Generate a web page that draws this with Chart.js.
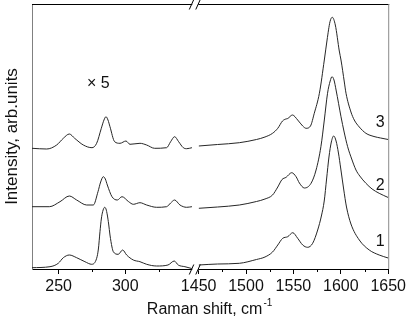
<!DOCTYPE html>
<html>
<head>
<meta charset="utf-8">
<script src="https://cdn.jsdelivr.net/npm/chart.js@4.4.1/dist/chart.umd.min.js"></script>
<style>
  body { margin: 0; background: #fff; }
  #wrap { width: 409px; height: 326px; }
</style>
</head>
<body>
<div id="wrap"><canvas id="raman"></canvas></div>
<script>
// left part of the axis (low shifts), cm-1
const low1X = [230, 243.5, 249.7, 253.5, 258, 263.5, 269.7, 274.8, 278.5, 279.8, 281, 282, 283, 284.5, 285.5, 286.5, 287.5, 288.5, 290, 291, 294.7, 298, 301, 306, 311, 316, 323.5, 332, 336.7, 339.7, 344.7, 349.8];
const low1Y = [1.3, 2.3, 5.7, 11.3, 14, 11.3, 7.3, 4.7, 10.7, 20, 37.3, 50, 57.3, 61.7, 60, 54, 45, 34, 22, 17.3, 14.7, 19, 14, 9, 7.3, 4.7, 3, 4, 8, 4, 2.3, 0.5];
const low2X = [230, 243, 251, 258, 263.5, 271, 276, 279.5, 281.5, 283.5, 285, 286.5, 290, 294, 297.5, 302.5, 306, 311, 316, 323.5, 331, 334, 337, 341, 346, 350];
const low2Y = [62.3, 62.3, 67.3, 73, 69, 64, 64, 77.3, 87, 92.3, 90, 84, 72.3, 69, 72.3, 67.3, 64.7, 66.3, 64, 61.7, 62.3, 66, 69, 64, 61.7, 62.3];
const low3X = [230, 241, 248.5, 253.5, 258, 262, 268.5, 275, 278.5, 282, 284, 285.5, 287, 288.5, 292, 296, 300.5, 303.5, 311, 316, 322, 331, 334, 337, 340, 343.5, 346, 350];
const low3Y = [120.7, 120, 124, 130.7, 135, 130.7, 124, 121.3, 125.7, 140.7, 149, 152.3, 149, 142.3, 127.3, 125.7, 128, 124.7, 125.7, 124, 120.7, 121.3, 127.3, 132.3, 127.3, 121.3, 120.3, 121.3];

// right part of the axis (G band region)
const high1X = [1450, 1470, 1493, 1511, 1520, 1528, 1533.5, 1538.7, 1544, 1549.3, 1554.5, 1559.8, 1565, 1570.3, 1575.6, 1579.5, 1582.5, 1585, 1587.5, 1590, 1592.5, 1595, 1597.5, 1600, 1603, 1606, 1610.7, 1619.5, 1630, 1640.5, 1650];
const high1Y = [4, 5, 5.7, 9.5, 12, 17, 24, 30.7, 32.3, 36.3, 30.7, 24, 21.7, 25.7, 39, 53, 68, 90, 112, 127, 133, 128, 116, 100, 80, 62, 45, 29, 19, 14, 11];
const high2X = [1450, 1470, 1493, 1511, 1520, 1528, 1533.5, 1538, 1542.3, 1548.2, 1552.8, 1556.3, 1561.6, 1568.6, 1573.9, 1579, 1582.6, 1586, 1588.8, 1590.7, 1592.8, 1595, 1600.2, 1603.5, 1607.2, 1611.5, 1616, 1620, 1626.5, 1633, 1640.5, 1650];
const high2Y = [60.7, 62, 64, 67.5, 70, 74, 82, 89.5, 91.7, 96.3, 92.3, 86, 81, 85.7, 99, 122.3, 149, 175.7, 188, 192.3, 189, 179, 152.3, 137, 122.3, 110, 99, 93, 85.7, 80, 75.7, 71.5];
const high3X = [1450, 1470, 1493, 1511, 1520, 1528, 1533.5, 1538.5, 1542, 1544, 1549, 1554.5, 1559.8, 1563.4, 1568, 1572, 1577.4, 1582.6, 1585.5, 1588.6, 1591, 1594.2, 1598.4, 1600.2, 1603.7, 1605.5, 1610.7, 1614.2, 1619.5, 1626.5, 1635, 1642, 1650];
const high3Y = [123, 124.5, 126.3, 129.5, 132, 135.7, 140.7, 148, 150, 150.5, 154, 149, 143, 140.7, 143, 155.7, 175.7, 209, 229, 247.3, 251.7, 244, 218, 209, 187, 175.7, 157, 149, 142, 135.7, 132.5, 131, 129.5];

const lowTicks = [250, 300];
const lowMinor = [275, 325];
const highTicks = [1450, 1500, 1550, 1600, 1650];
const highMinor = [1475, 1525, 1575, 1625];

const curveNames = ['1', '2', '3'];
const curveNameY = [23, 79.5, 142];
const curveNameX = 1641.6;

const FONT = 'Liberation Sans, Arial, Helvetica, sans-serif';
Chart.defaults.font.family = FONT;
Chart.defaults.font.size = 16;
Chart.defaults.color = '#111';

function pts(xs, ys) {
    return xs.map((x, i) => ({ x: x, y: ys[i] }));
}

function spec(xs, ys, axis) {
    return {
        data: pts(xs, ys),
        xAxisID: axis,
        borderColor: '#262626',
        borderWidth: 1,
        pointRadius: 0,
        cubicInterpolationMode: 'monotone',
        fill: false
    };
}

const decor = {
    id: 'decor',
    afterDraw(chart) {
        const ctx = chart.ctx;
        const a = chart.chartArea;
        const xL = chart.scales.xL, xR = chart.scales.xR, y = chart.scales.y;
        ctx.save();
        ctx.lineWidth = 1;

        // frame: top and right
        ctx.strokeStyle = '#000';
        ctx.beginPath();
        ctx.moveTo(a.left, a.top + 0.5);
        ctx.lineTo(a.right + 1, a.top + 0.5);
        ctx.stroke();
        ctx.strokeStyle = '#8a8a8a';
        ctx.beginPath();
        ctx.moveTo(a.right + 0.5, a.top);
        ctx.lineTo(a.right + 0.5, a.bottom);
        ctx.stroke();

        // minor ticks
        ctx.strokeStyle = '#000';
        ctx.beginPath();
        lowMinor.forEach(v => {
            const px = Math.round(xL.getPixelForValue(v)) + 0.5;
            ctx.moveTo(px, a.bottom);
            ctx.lineTo(px, a.bottom + 3);
        });
        highMinor.forEach(v => {
            const px = Math.round(xR.getPixelForValue(v)) + 0.5;
            ctx.moveTo(px, a.bottom);
            ctx.lineTo(px, a.bottom + 3);
        });
        ctx.stroke();

        // axis break marks
        const bx = (xL.getPixelForValue(350) + xR.left) / 2;
        [a.top + 0.5, a.bottom + 0.5].forEach(by => {
            ctx.fillStyle = '#fff';
            ctx.fillRect(bx - 3, by - 1.5, 6, 3);
            ctx.strokeStyle = '#000';
            ctx.beginPath();
            ctx.moveTo(bx - 6, by + 5);
            ctx.lineTo(bx - 1.5, by - 5);
            ctx.moveTo(bx + 0.5, by + 5);
            ctx.lineTo(bx + 5, by - 5);
            ctx.stroke();
        });

        // x title with superscript
        ctx.fillStyle = '#111';
        ctx.textBaseline = 'alphabetic';
        ctx.textAlign = 'left';
        const main = 'Raman shift, cm';
        const sup = '-1';
        ctx.font = '16px ' + FONT;
        const w1 = ctx.measureText(main).width;
        ctx.font = '10px ' + FONT;
        const w2 = ctx.measureText(sup).width;
        const cx = (a.left + a.right) / 2 - 1;
        const tx = cx - (w1 + w2) / 2;
        const ty = a.bottom + 44.5;
        ctx.font = '16px ' + FONT;
        ctx.fillText(main, tx, ty);
        ctx.font = '10px ' + FONT;
        ctx.fillText(sup, tx + w1 + 1, ty - 7.5);

        // curve numbers and scale note
        ctx.font = '16px ' + FONT;
        ctx.textAlign = 'center';
        curveNames.forEach((t, i) => {
            ctx.fillText(t, xR.getPixelForValue(curveNameX), y.getPixelForValue(curveNameY[i]));
        });
        ctx.fillText('\u00d7 5', xL.getPixelForValue(279.7), y.getPixelForValue(180.7));
        ctx.restore();
    }
};

function setTicks(list) {
    return function (scale) {
        scale.ticks = list.map(v => ({ value: v }));
    };
}

const xCommon = {
    type: 'linear',
    position: 'bottom',
    stack: 'shift',
    grid: { display: true, drawOnChartArea: false, drawTicks: true, tickLength: 5, tickColor: '#000' },
    border: { display: true, color: '#000', width: 1 },
    ticks: { padding: 3, color: '#111', maxRotation: 0, autoSkip: false, callback: v => String(v) },
    afterFit: function (scale) { scale.height = 57; }
};

new Chart(document.getElementById('raman'), {
    type: 'line',
    data: {
        datasets: [
            spec(low1X, low1Y, 'xL'),
            spec(low2X, low2Y, 'xL'),
            spec(low3X, low3Y, 'xL'),
            spec(high1X, high1Y, 'xR'),
            spec(high2X, high2Y, 'xR'),
            spec(high3X, high3Y, 'xR')
        ]
    },
    options: {
        responsive: true,
        maintainAspectRatio: false,
        animation: false,
        layout: { padding: { top: 4, right: 20, bottom: 0, left: 0 } },
        plugins: {
            legend: { display: false },
            tooltip: { enabled: false }
        },
        scales: {
            xL: Object.assign({}, xCommon, {
                min: 230, max: 355, stackWeight: 167,
                afterBuildTicks: setTicks(lowTicks)
            }),
            xR: Object.assign({}, xCommon, {
                min: 1450, max: 1650, stackWeight: 190,
                afterBuildTicks: setTicks(highTicks)
            }),
            y: {
                type: 'linear',
                position: 'left',
                min: 0,
                max: 265,
                grid: { display: false },
                ticks: { display: false },
                border: { display: true, color: '#808080', width: 1 },
                title: {
                    display: true,
                    text: 'Intensity, arb.units',
                    color: '#111',
                    font: { size: 17 },
                    padding: { top: 2, bottom: 0 }
                },
                afterFit: function (scale) { scale.width = 32; }
            }
        }
    },
    plugins: [decor]
});
</script>
</body>
</html>
